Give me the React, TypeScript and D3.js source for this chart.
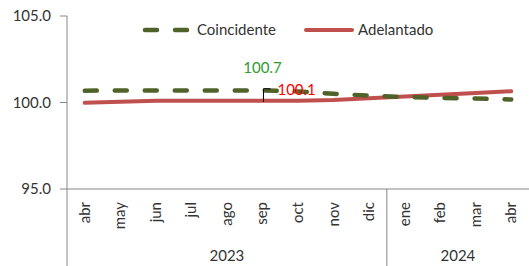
import React from "react";
import * as d3 from "d3";

const months = ["abr", "may", "jun", "jul", "ago", "sep", "oct", "nov", "dic", "ene", "feb", "mar", "abr"];
const years = [
  { label: "2023", start: 0, end: 9 },
  { label: "2024", start: 9, end: 13 },
];
const coincidente = [100.68, 100.7, 100.7, 100.7, 100.7, 100.7, 100.64, 100.5, 100.4, 100.32, 100.27, 100.23, 100.17];
const adelantado = [99.98, 100.04, 100.1, 100.1, 100.1, 100.1, 100.1, 100.15, 100.25, 100.35, 100.45, 100.55, 100.65];
const yTicks = [95, 100, 105];
const labelIndex = 5;

const W = 529;
const H = 266;
const FONT = "Lato, 'Open Sans', sans-serif";

export default function App() {
  const left = 67;
  const right = 529;
  const top = 16;
  const bottom = 189;

  const x = d3.scaleBand<number>().domain(months.map((_, i) => i)).range([left, right]).padding(0);
  const y = d3.scaleLinear().domain([95, 105]).range([bottom, top]);
  const cx = (i: number) => (x(i) as number) + x.bandwidth() / 2;

  const line = d3
    .line<number>()
    .x((_, i) => cx(i))
    .y((d) => y(d))
    .curve(d3.curveLinear);

  const lx = cx(labelIndex);
  const gy = y(coincidente[labelIndex]);
  const ry = y(adelantado[labelIndex]);

  return (
    <svg width={W} height={H} style={{ position: "absolute", left: 0, top: 0, background: "#fff" }} fontFamily={FONT}>
      {/* y axis */}
      <line x1={left} x2={left} y1={top} y2={bottom} stroke="#868686" strokeWidth={1} />
      {yTicks.map((t) => (
        <g key={t}>
          <line x1={left - 7} x2={left} y1={y(t)} y2={y(t)} stroke="#868686" strokeWidth={1} />
          <text x={left - 16} y={y(t)} dy="0.35em" textAnchor="end" fontSize={15} fill="#333">
            {t.toFixed(1)}
          </text>
        </g>
      ))}
      {/* x axis */}
      <line x1={left} x2={right} y1={bottom} y2={bottom} stroke="#868686" strokeWidth={1} />
      {years.map((yr) => {
        const x0 = x(yr.start) as number;
        const x1 = yr.end >= months.length ? right : (x(yr.end) as number);
        return (
          <g key={yr.label}>
            <line x1={x0} x2={x0} y1={bottom} y2={H} stroke="#868686" strokeWidth={1} />
            <text x={(x0 + x1) / 2} y={261} textAnchor="middle" fontSize={15} fill="#333">
              {yr.label}
            </text>
          </g>
        );
      })}
      {months.map((m, i) => (
        <text
          key={i}
          transform={`translate(${cx(i) + 5},${bottom + 13}) rotate(-90)`}
          textAnchor="end"
          fontSize={15}
          fill="#333"
        >
          {m}
        </text>
      ))}

      {/* series */}
      <path d={line(adelantado) || ""} fill="none" stroke="#C0504D" strokeWidth={4} strokeLinecap="round" />
      <path
        d={line(coincidente) || ""}
        fill="none"
        stroke="#4F6228"
        strokeWidth={4.5}
        strokeDasharray="12 18"
        strokeLinecap="round"
      />

      {/* data labels */}
      <text x={lx} y={gy - 17} textAnchor="middle" fontSize={15} fill="#2E9A2E">
        {coincidente[labelIndex].toFixed(1)}
      </text>
      <path d={`M${lx + 1},${ry + 1} L${lx + 1},${ry - 12} L${lx + 8},${ry - 12}`} fill="none" stroke="#000" strokeWidth={1} />
      <text x={lx + 15} y={ry - 6} textAnchor="start" fontSize={15} fill="#FF0000">
        {adelantado[labelIndex].toFixed(1)}
      </text>

      {/* legend */}
      <line x1={145} x2={191} y1={30} y2={30} stroke="#4F6228" strokeWidth={4.5} strokeDasharray="12 18" strokeLinecap="round" />
      <text x={197} y={30} dy="0.35em" fontSize={15} fill="#333">
        Coincidente
      </text>
      <line x1={306} x2={352} y1={30} y2={30} stroke="#C0504D" strokeWidth={4} strokeLinecap="round" />
      <text x={358} y={30} dy="0.35em" fontSize={15} fill="#333">
        Adelantado
      </text>
    </svg>
  );
}
